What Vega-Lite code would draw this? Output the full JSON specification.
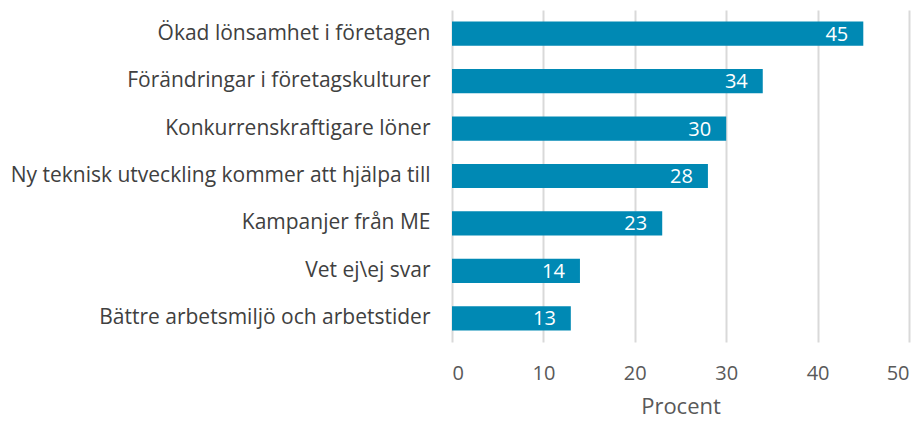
{
  "$schema": "https://vega.github.io/schema/vega-lite/v6.json",
  "autosize": "none",
  "width": 457,
  "height": 332,
  "padding": {"left": 452, "top": 10, "right": 14, "bottom": 79},
  "background": "white",
  "config": {"view": {"stroke": null}, "font": "Open Sans"},
  "data": {"values": [
    {"cat": "Ökad lönsamhet i företagen", "v": 45},
    {"cat": "Förändringar i företagskulturer", "v": 34},
    {"cat": "Konkurrenskraftigare löner", "v": 30},
    {"cat": "Ny teknisk utveckling kommer att hjälpa till", "v": 28},
    {"cat": "Kampanjer från ME", "v": 23},
    {"cat": "Vet ej\\ej svar", "v": 14},
    {"cat": "Bättre arbetsmiljö och arbetstider", "v": 13}
  ]},
  "encoding": {
    "y": {"field": "cat", "type": "nominal", "sort": null,
      "scale": {"paddingInner": 0.49, "paddingOuter": 0.245},
      "axis": {"title": null, "domain": false, "ticks": false, "labelFontSize": 21, "labelColor": "#404040", "labelPadding": 22, "labelLimit": 500}},
    "x": {"field": "v", "type": "quantitative",
      "scale": {"domain": [0, 50], "nice": false},
      "axis": {"values": [0, 10, 20, 30, 40, 50], "title": "Procent", "titleFontSize": 22, "titleFontWeight": "normal", "titleColor": "#595959", "titlePadding": 13,
        "domain": false, "ticks": false, "labelFontSize": 20, "labelColor": "#595959", "labelPadding": 21,
        "grid": true, "gridColor": "#d9d9d9", "gridWidth": 2}}
  },
  "layer": [
    {"mark": {"type": "bar", "color": "#0089B4"}},
    {"mark": {"type": "text", "align": "right", "baseline": "middle", "dx": -15, "dy": 1, "fontSize": 20, "color": "white"},
     "encoding": {"text": {"field": "v", "type": "quantitative"}}}
  ]
}
